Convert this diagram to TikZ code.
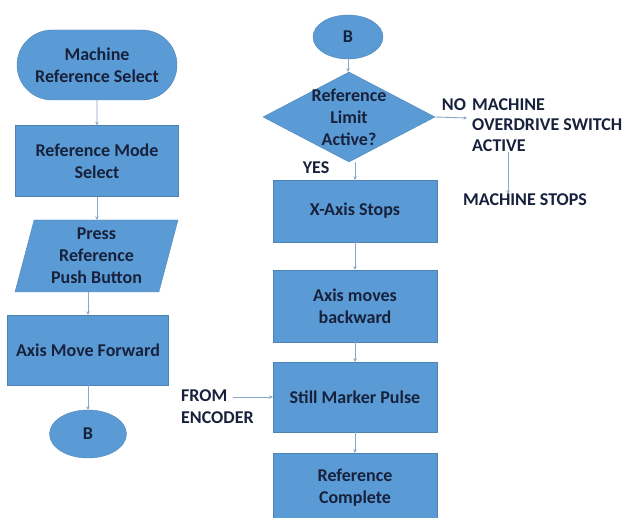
\documentclass[tikz,border=0pt]{standalone}
\usepackage{fontspec}
\setmainfont{Carlito}
\usetikzlibrary{shapes.geometric,shapes.misc,arrows.meta}
\definecolor{boxblue}{HTML}{5B9BD5}
\definecolor{txtnavy}{HTML}{17213B}
\definecolor{arrowc}{HTML}{8AA6C8}
\begin{document}
\begin{tikzpicture}[x=1pt,y=-1pt,
  every node/.style={font=\fontsize{18}{22}\selectfont\bfseries, text=txtnavy, align=center, inner sep=0pt},
  blk/.style={fill=boxblue, draw=boxblue!85!black, line width=0.4pt},
  procbox/.style={blk, rectangle, minimum width=163, minimum height=71},
  termbox/.style={blk, rounded rectangle, minimum width=160, minimum height=70},
  iobox/.style={blk, trapezium, trapezium left angle=76, trapezium right angle=104, trapezium stretches=true, minimum width=163, minimum height=72},
  connbox/.style={blk, ellipse, minimum width=72, minimum height=47},
  decbox/.style={blk, diamond, minimum width=172, minimum height=90},
  plain/.style={align=left},
  flow/.style={draw=arrowc, line width=0.9pt, -{Stealth[length=3.5pt,width=3.5pt]}}
]
\useasboundingbox (0,0) rectangle (625,518);
\clip (0,0) rectangle (625,518);
\fill[white] (0,0) rectangle (625,518);
% left column
\node[termbox] (t1) at (97,65) {Machine\\Reference Select};
\node[procbox] (r1) at (97,161) {Reference Mode\\Select};
\node[iobox] (p1) at (96.5,256) {Press\\Reference\\Push Button};
\node[procbox, minimum width=161, minimum height=70] (r2) at (88,350) {Axis Move Forward};
\node[connbox, minimum width=77, minimum height=48] (b1) at (88,434) {B};
\draw[flow] (t1) -- (r1);
\draw[flow] (r1) -- (p1.north -| r1);
\draw[flow] (p1.south -| r2) -- (r2);
\draw[flow] (r2) -- (b1);
% right column
\node[connbox, minimum width=70, minimum height=44] (b2) at (348,37) {B};
\node[decbox] (d1) at (349,117) {};
\node at (d1) {Reference\\Limit\\Active?};
\node[procbox, minimum width=164, minimum height=62] (r3) at (355,211) {X-Axis Stops};
\node[procbox, minimum width=164, minimum height=72] (r4) at (355,306) {Axis moves\\backward};
\node[procbox, minimum width=164, minimum height=70] (r5) at (355,397) {Still Marker Pulse};
\node[procbox, minimum width=164, minimum height=80] (r6) at (355,493) {};
\node at (355,488) {Reference\\Complete};
\draw[flow] (b2) -- (d1.north -| b2);
\draw[flow] (d1.south -| r3) -- (r3);
\draw[flow] (r3) -- (r4);
\draw[flow] (r4) -- (r5);
\draw[flow] (r5) -- (r6.north);
% side labels
\node (yes) at (316,168) {YES};
\node (no) at (454,105) {NO};
\node[plain, anchor=north west, font=\fontsize{18}{21}\selectfont\bfseries] (ov) at (472,98) {MACHINE\\OVERDRIVE SWITCH\\ACTIVE};
\coordinate (ovin) at (467,118);
\draw[flow] (d1.east) -- (ovin);
\node (ms) at (525,200) {MACHINE STOPS};
\draw[flow] (508,152) -- (ms.north -| 508,0);
\node[plain, anchor=west] (enc) at (181,407) {FROM\\ENCODER};
\coordinate (encout) at (233,397);
\draw[flow] (encout) -- (r5.west |- encout);
\end{tikzpicture}
\end{document}
